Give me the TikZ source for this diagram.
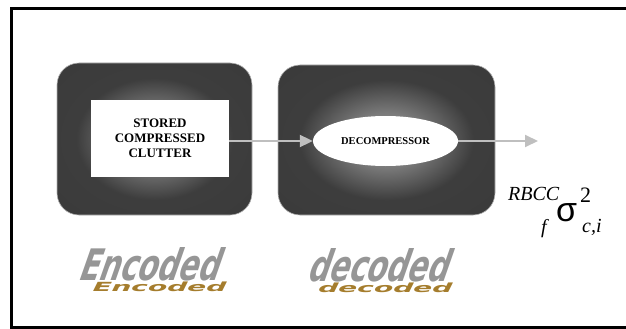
\documentclass[tikz,border=0pt]{standalone}
\usepackage{fontspec}
\setmainfont{Liberation Serif}
\newfontfamily\artfont{DejaVu Sans}
\newfontfamily\greekfont{Liberation Sans}
\usetikzlibrary{arrows.meta,shapes.geometric}
\pgfdeclareradialshading{blockglow}{\pgfpoint{0bp}{0bp}}{color(0bp)=(black!40); color(9bp)=(black!52); color(20bp)=(black!76); color(50bp)=(black!78)}
\definecolor{wordgray}{RGB}{150,150,150}
\definecolor{wordbrown}{RGB}{165,125,45}
\tikzset{
	block/.style={shade, shading=blockglow, draw=black!30, line width=0.6pt, rounded corners=22pt},
	flow/.style={draw=black!25, line width=2pt, -{Triangle[length=13pt,width=12pt]}},
	word/.style={font=\artfont\bfseries\fontsize{28}{28}\selectfont, inner sep=0pt},
	label/.style={inner sep=0pt, anchor=base west},
}

\begin{document}
\begin{tikzpicture}[x=1pt, y=-1pt]
		%%%%% START %%%%%
		\useasboundingbox (0, 0) rectangle (626, 329);
		
		\draw[line width=3pt] (11, 8.5) rectangle (640, 327);
		
		\node[block, minimum width=195pt, minimum height=152pt] (encbox) at (154.5, 139) {};
		\node[block, minimum width=217pt, minimum height=150pt] (decbox) at (386.5, 140) {};
		
		\node[fill=white, minimum width=138pt, minimum height=77pt, align=center, font=\bfseries\fontsize{13}{15}\selectfont] (stored) at (160, 138.5) {STORED\\COMPRESSED\\CLUTTER};
		\node[ellipse, fill=white, minimum width=145pt, minimum height=50pt, inner sep=0pt, font=\bfseries\fontsize{10.5}{12}\selectfont] (decomp) at (385.5, 141) {DECOMPRESSOR};
		
		\coordinate (out) at (538, 141);
		\draw[flow] (stored.east |- decomp) -- (decomp);
		\draw[flow] (decomp) -- (out);
		
		\node[label, font=\itshape\fontsize{20}{20}\selectfont] (rbcc) at (508, 200) {RBCC};
		\node[label, font=\greekfont\fontsize{34}{34}\selectfont] (sigma) at (556, 221) {σ};
		\node[label, font=\fontsize{22}{22}\selectfont] (sq) at (580, 202) {2};
		\node[label, font=\itshape\fontsize{20}{20}\selectfont] (fsub) at (541, 233) {f};
		\node[label, font=\itshape\fontsize{20}{20}\selectfont] (ci) at (582, 232) {c,i};
		
		\node[word, wordbrown, xslant=0.5, yscale=0.45] (encshadow) at (160, 287) {Encoded};
		\node[word, wordgray, xslant=0.35, xscale=1.05, yscale=1.55] (encword) at (153, 264) {Encoded};
		\node[word, wordbrown, xslant=0.5, yscale=0.45] (decshadow) at (386, 288) {decoded};
		\node[word, wordgray, xslant=0.35, xscale=1.05, yscale=1.55] (decword) at (382, 265) {decoded};
		
		%%%%% END %%%%%
\end{tikzpicture}
\end{document}
